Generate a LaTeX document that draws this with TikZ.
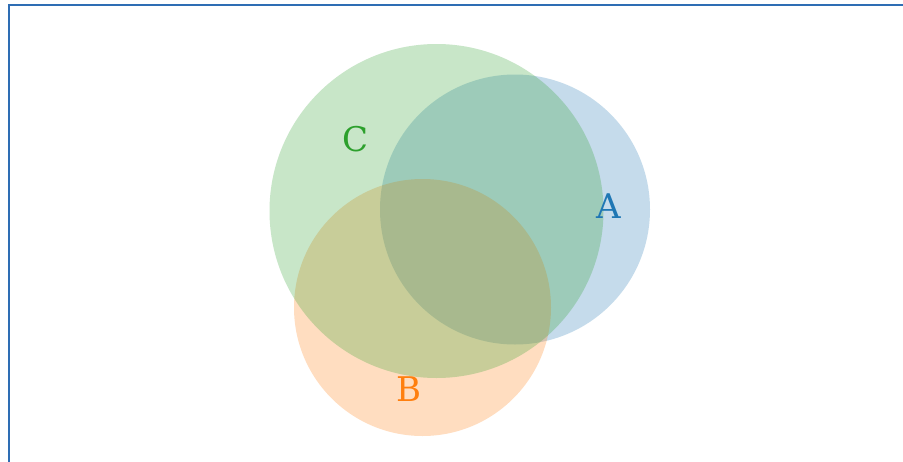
\documentclass[tikz,border=0pt]{standalone}
\usepackage{fontspec}
\setmainfont{DejaVu Serif}
\definecolor{tabblue}{HTML}{1F77B4}
\definecolor{taborange}{HTML}{FF7F0E}
\definecolor{tabgreen}{HTML}{2CA02C}
\definecolor{framecol}{HTML}{2E6DB4}
\begin{document}
\begin{tikzpicture}[x=1pt,y=-1pt,
  setcirc/.style={fill opacity=0.26, draw=none},
  setlabel/.style={font=\fontsize{34}{34}\selectfont, inner sep=0pt}]
\useasboundingbox (0,0) rectangle (903,461);
\fill[white] (0,0) rectangle (903,461);
\draw[framecol, line width=2.6pt] (909,4.8) -- (8.8,4.8) -- (8.8,470);
\fill[setcirc, tabblue] (515,209.5) circle (135);
\fill[setcirc, taborange] (422.5,307.5) circle (128.5);
\fill[setcirc, tabgreen] (436.5,211) circle (167);
\node[setlabel, text=tabgreen] (lc) at (356,139) {C};
\node[setlabel, text=tabblue] (la) at (609,206) {A};
\node[setlabel, text=taborange] (lb) at (409,389) {B};
\end{tikzpicture}
\end{document}
